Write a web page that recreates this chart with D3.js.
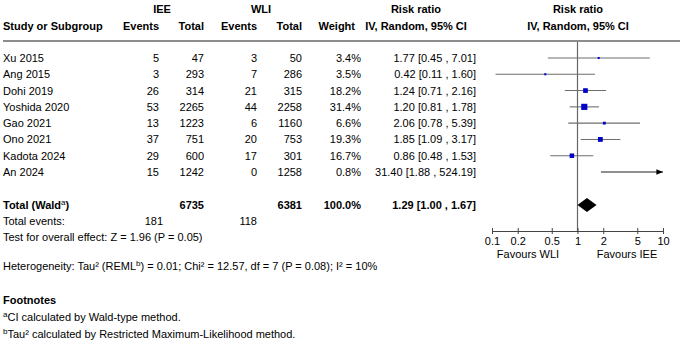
<!DOCTYPE html>
<html>
<head>
<meta charset="utf-8">
<script src="https://cdn.jsdelivr.net/npm/d3@7"></script>
<style>
  body{margin:0;background:#fff}
  svg text{font-family:"Liberation Sans",Arial,Helvetica,sans-serif;font-size:11px;fill:#000}
</style>
</head>
<body>
<svg id="chart" width="683" height="348"></svg>
<script>
// study level data
const studies=['Xu 2015','Ang 2015','Dohi 2019','Yoshida 2020','Gao 2021','Ono 2021','Kadota 2024','An 2024']
const ieeEvents=[5,3,26,53,13,37,29,15]
const ieeTotal=[47,293,314,2265,1223,751,600,1242]
const wliEvents=[3,7,21,44,6,20,17,0]
const wliTotal=[50,286,315,2258,1160,753,301,1258]
const weights=[3.4,3.5,18.2,31.4,6.6,19.3,16.7,0.8]
const rr=[1.77,0.42,1.24,1.20,2.06,1.85,0.86,31.40]
const lower=[0.45,0.11,0.71,0.81,0.78,1.09,0.48,1.88]
const upper=[7.01,1.60,2.16,1.78,5.39,3.17,1.53,524.19]
// pooled
const totalIEE=6735
const totalWLI=6381
const eventsIEE=181
const eventsWLI=118
const pooled=[1.29,1.00,1.67]
const axisTicks=[0.1,0.2,0.5,1,2,5,10]

const svg=d3.select('#chart')
const x=d3.scaleLog().domain([0.1,10]).range([492,663])
const y=d3.scaleLinear().domain([0,7]).range([58,172])
const totalY=205
const axisY=231

const fmt2=d3.format('.2f')
const ciText=(r,l,u)=>`${fmt2(r)} [${fmt2(l)} , ${fmt2(u)}]`

// column layout (right edges)
const cols={ieeE:159,ieeT:204,wliE:257,wliT:302,w:361,ci:476}

function txt(xp,yp,s,anchor,bold){
  return svg.append('text')
    .attr('x',xp).attr('y',yp)
    .attr('text-anchor',anchor||'start')
    .attr('font-weight',bold?'bold':null)
    .text(s)
}

// headers
txt(162,13,'IEE','middle',true)
txt(261,13,'WLI','middle',true)
txt(416,13,'Risk ratio','middle',true)
txt(578,13,'Risk ratio','middle',true)
txt(3,30,'Study or Subgroup','start',true)
txt(cols.ieeE,30,'Events','end',true)
txt(cols.ieeT,30,'Total','end',true)
txt(cols.wliE,30,'Events','end',true)
txt(cols.wliT,30,'Total','end',true)
txt(355,30,'Weight','end',true)
txt(416,30,'IV, Random, 95% CI','middle',true)
txt(578,30,'IV, Random, 95% CI','middle',true)

svg.append('line')
  .attr('x1',3).attr('x2',680)
  .attr('y1',41).attr('y2',41)
  .attr('stroke','#8c8c8c').attr('stroke-width',2)

// study rows
studies.forEach((s,i)=>{
  const yy=y(i)+4
  txt(3,yy,s)
  txt(cols.ieeE,yy,ieeEvents[i],'end')
  txt(cols.ieeT,yy,ieeTotal[i],'end')
  txt(cols.wliE,yy,wliEvents[i],'end')
  txt(cols.wliT,yy,wliTotal[i],'end')
  txt(cols.w,yy,weights[i].toFixed(1)+'%','end')
  txt(cols.ci,yy,ciText(rr[i],lower[i],upper[i]),'end')
})

// total row
const tY=totalY+4
const tw=txt(3,tY,'Total (Wald','start',true)
tw.append('tspan').attr('font-size','8px').attr('dy',-4).attr('font-weight','normal').text('a')
tw.append('tspan').attr('dy',4).text(')')
txt(cols.ieeT,tY,totalIEE,'end',true)
txt(cols.wliT,tY,totalWLI,'end',true)
txt(cols.w,tY,'100.0%','end',true)
txt(cols.ci,tY,ciText(pooled[0],pooled[1],pooled[2]),'end',true)

txt(3,tY+16,'Total events:')
txt(cols.ieeE+4,tY+16,eventsIEE,'end')
txt(cols.wliE,tY+16,eventsWLI,'end')
txt(3,tY+32,'Test for overall effect: Z = 1.96 (P = 0.05)')

const het=txt(3,270,'Heterogeneity: Tau² (REML')
het.append('tspan').attr('font-size','8px').attr('dy',-4).text('b')
het.append('tspan').attr('dy',4).text(') = 0.01; Chi² = 12.57, df = 7 (P = 0.08); I² = 10%')

txt(3,304,'Footnotes','start',true)
const f1=svg.append('text').attr('x',3).attr('y',321)
f1.append('tspan').attr('font-size','8px').attr('dy',-4).text('a')
f1.append('tspan').attr('dy',4).text('CI calculated by Wald-type method.')
const f2=svg.append('text').attr('x',3).attr('y',338)
f2.append('tspan').attr('font-size','8px').attr('dy',-4).text('b')
f2.append('tspan').attr('dy',4).text('Tau² calculated by Restricted Maximum-Likelihood method.')

// forest plot
svg.append('defs').append('marker')
  .attr('id','arrow').attr('viewBox','0 0 10 10')
  .attr('refX',10).attr('refY',5)
  .attr('markerWidth',6).attr('markerHeight',6)
  .attr('orient','auto')
  .append('path').attr('d','M0,1L10,5L0,9Z').attr('fill','#000')

svg.append('line')
  .attr('x1',x(1)).attr('x2',x(1))
  .attr('y1',42).attr('y2',axisY)
  .attr('stroke','#666').attr('stroke-width',1.2)

const plot=svg.append('g')
studies.forEach((s,i)=>{
  const over=upper[i]>x.domain()[1]
  const hi=Math.min(upper[i],x.domain()[1])
  plot.append('line')
    .attr('x1',x(Math.max(lower[i],x.domain()[0]))).attr('x2',x(hi))
    .attr('y1',y(i)).attr('y2',y(i))
    .attr('stroke',over?'#222':'#6e6e6e').attr('stroke-width',1.1)
    .attr('marker-end',over?'url(#arrow)':null)
  if(rr[i]<=x.domain()[1]){
    const sz=Math.max(1.6,Math.sqrt(weights[i])*1.1)
    plot.append('rect')
      .attr('x',x(rr[i])-sz/2).attr('y',y(i)-sz/2)
      .attr('width',sz).attr('height',sz)
      .attr('fill','#0000c8')
  }
})

// pooled diamond
plot.append('path')
  .attr('d',`M${x(pooled[1])},${totalY}L${x(pooled[0])},${totalY-7}L${x(pooled[2])},${totalY}L${x(pooled[0])},${totalY+7}Z`)
  .attr('fill','#000')

// axis
const axis=svg.append('g')
  .attr('transform',`translate(0,${axisY})`)
  .call(d3.axisBottom(x).tickValues(axisTicks).tickFormat(d=>d).tickSizeInner(3).tickSizeOuter(0).tickPadding(3))
axis.select('.domain').attr('stroke','#444')
axis.selectAll('.tick line').attr('y1',-3).attr('stroke','#444')
axis.selectAll('.tick text')
  .style('font-family','"Liberation Sans",Arial,sans-serif').style('font-size','11px').attr('fill','#000')

txt(528,258,'Favours WLI','middle')
txt(627,258,'Favours IEE','middle')
</script>
</body>
</html>
